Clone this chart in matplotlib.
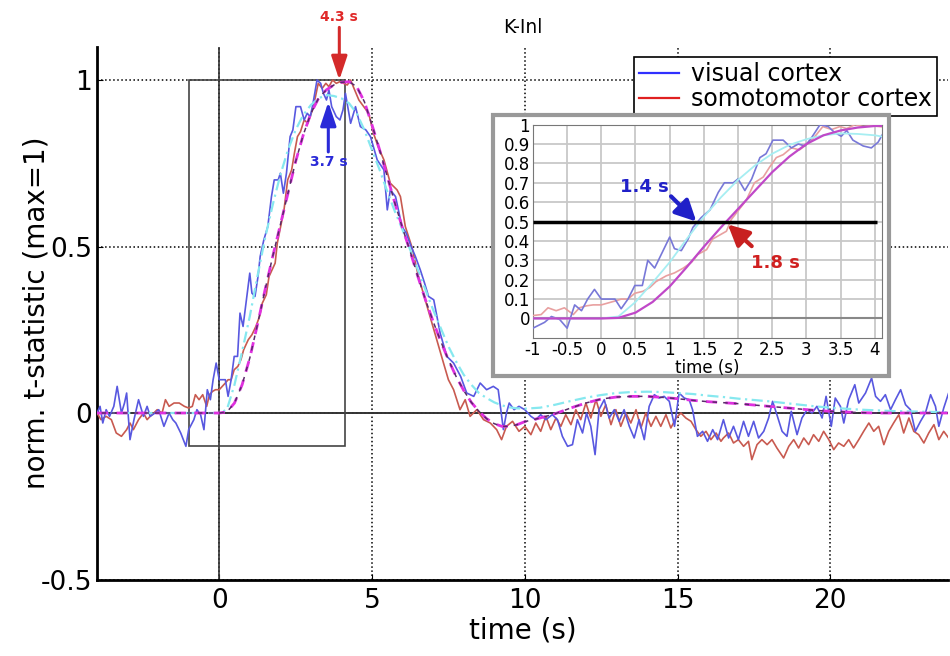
import numpy as np
import matplotlib.pyplot as plt
from matplotlib.lines import Line2D
from matplotlib.patches import Rectangle

plt.rcParams['font.family'] = ['DejaVu Sans']
plt.rcParams['axes.unicode_minus'] = False

# visual cortex, raw (time s, norm. t)
visual = [(-4.0, 0.0), (-3.9, 0.02), (-3.81, -0.03), (-3.7, 0.01), (-3.59, -0.01), (-3.45, 0.02),
          (-3.34, 0.08), (-3.2, 0.0), (-3.1, 0.03), (-3.03, 0.06), (-2.92, -0.08), (-2.79, -0.02),
          (-2.64, 0.04), (-2.48, -0.01), (-2.36, 0.02), (-2.26, -0.01), (-2.1, 0.0), (-1.98, 0.01),
          (-1.81, -0.04), (-1.64, 0.0), (-1.52, -0.02), (-1.42, -0.03), (-1.26, -0.06), (-1.09, -0.1),
          (-1.0, -0.05), (-0.83, -0.02), (-0.73, 0.01), (-0.61, -0.005), (-0.5, -0.05), (-0.39, 0.07),
          (-0.29, 0.04), (-0.2, 0.1), (-0.1, 0.15), (0.0, 0.1), (0.1, 0.1), (0.2, 0.1), (0.29, 0.05),
          (0.39, 0.1), (0.49, 0.17), (0.6, 0.17), (0.68, 0.3), (0.78, 0.26), (0.89, 0.34), (1.0, 0.42),
          (1.07, 0.36), (1.17, 0.35), (1.27, 0.41), (1.34, 0.47), (1.46, 0.52), (1.59, 0.56),
          (1.71, 0.65), (1.8, 0.7), (1.93, 0.7), (2.0, 0.72), (2.1, 0.66), (2.2, 0.72), (2.32, 0.83),
          (2.41, 0.85), (2.51, 0.92), (2.66, 0.92), (2.78, 0.88), (2.88, 0.9), (2.98, 0.89),
          (3.07, 0.93), (3.2, 1.0), (3.32, 0.99), (3.41, 0.96), (3.51, 0.94), (3.59, 0.97),
          (3.68, 0.92), (3.83, 0.89), (3.95, 0.88), (4.05, 0.91), (4.13, 0.96), (4.3, 0.87),
          (4.46, 0.92), (4.62, 0.86), (4.8, 0.85), (4.95, 0.83), (5.17, 0.76), (5.39, 0.73),
          (5.5, 0.61), (5.6, 0.67), (5.77, 0.65), (5.98, 0.56), (6.12, 0.54), (6.26, 0.505),
          (6.42, 0.47), (6.58, 0.43), (6.72, 0.39), (6.85, 0.35), (7.02, 0.34), (7.23, 0.24),
          (7.45, 0.17), (7.67, 0.15), (7.9, 0.11), (8.1, 0.06), (8.33, 0.05), (8.54, 0.09),
          (8.75, 0.07), (8.97, 0.08), (9.13, 0.07), (9.3, -0.05), (9.4, 0.0), (9.49, 0.03),
          (9.65, 0.01), (9.81, 0.02), (10.0, 0.01), (10.2, -0.01), (10.36, -0.02), (10.52, -0.005),
          (10.69, -0.02), (10.9, -0.005), (11.07, -0.02), (11.23, -0.07), (11.4, -0.1),
          (11.56, -0.095), (11.72, -0.02), (11.89, -0.06), (12.02, 0.0), (12.16, -0.04),
          (12.3, -0.125), (12.43, 0.01), (12.6, 0.04), (12.76, -0.015), (12.93, 0.01),
          (13.09, -0.025), (13.25, 0.01), (13.42, -0.04), (13.58, -0.075), (13.74, -0.02),
          (13.91, -0.08), (14.07, 0.02), (14.24, 0.055), (14.4, 0.045), (14.56, 0.05),
          (14.73, 0.035), (14.9, -0.04), (15.05, 0.06), (15.22, 0.045), (15.38, 0.04),
          (15.49, 0.01), (15.65, -0.07), (15.82, -0.055), (15.98, -0.085), (16.15, -0.05),
          (16.31, -0.08), (16.5, -0.02), (16.67, -0.075), (16.83, -0.04), (16.99, -0.08),
          (17.16, -0.025), (17.32, -0.07), (17.49, -0.025), (17.65, -0.075), (17.82, -0.055),
          (17.98, -0.015), (18.11, 0.035), (18.25, -0.005), (18.42, -0.055), (18.58, -0.07),
          (18.72, 0.005), (18.91, -0.065), (19.07, -0.015), (19.24, 0.01), (19.4, 0.0),
          (19.56, 0.02), (19.73, -0.015), (19.86, 0.05), (20.03, -0.04), (20.16, 0.045),
          (20.33, 0.02), (20.44, -0.03), (20.6, 0.04), (20.8, 0.085), (20.93, 0.03), (21.15, 0.06),
          (21.35, 0.105), (21.48, 0.05), (21.64, 0.035), (21.8, 0.055), (21.97, 0.01), (22.13, 0.04),
          (22.3, 0.07), (22.46, 0.025), (22.62, 0.01), (22.78, -0.055), (22.95, -0.025),
          (23.11, 0.0), (23.28, 0.055), (23.44, 0.02), (23.55, -0.04), (23.71, 0.015),
          (23.87, 0.06), (24.0, 0.03)]

# somatomotor cortex, raw
somato = [(-4.0, 0.0), (-3.87, -0.02), (-3.7, -0.01), (-3.53, -0.02), (-3.37, -0.06), (-3.2, -0.07),
          (-3.03, -0.05), (-2.92, -0.03), (-2.81, -0.05), (-2.64, -0.02), (-2.48, 0.0), (-2.36, -0.02),
          (-2.26, -0.01), (-2.14, 0.0), (-2.03, 0.01), (-1.87, 0.0), (-1.76, 0.04), (-1.64, 0.02),
          (-1.48, 0.03), (-1.31, 0.03), (-1.14, 0.02), (-1.0, 0.015), (-0.88, 0.02), (-0.78, 0.055),
          (-0.66, 0.04), (-0.54, 0.055), (-0.41, 0.02), (-0.32, 0.055), (-0.22, 0.065), (-0.12, 0.07),
          (0.0, 0.07), (0.1, 0.08), (0.2, 0.09), (0.29, 0.1), (0.39, 0.1), (0.49, 0.13), (0.61, 0.14),
          (0.71, 0.16), (0.8, 0.19), (0.95, 0.22), (1.07, 0.235), (1.2, 0.26), (1.32, 0.29),
          (1.41, 0.33), (1.54, 0.355), (1.63, 0.41), (1.73, 0.43), (1.83, 0.45), (1.9, 0.51),
          (2.0, 0.555), (2.12, 0.61), (2.24, 0.7), (2.37, 0.73), (2.46, 0.78), (2.56, 0.83),
          (2.66, 0.845), (2.78, 0.88), (2.9, 0.87), (3.05, 0.91), (3.15, 0.95), (3.24, 0.99),
          (3.37, 0.975), (3.49, 0.99), (3.59, 0.98), (3.71, 1.0), (3.83, 0.99), (3.95, 0.995),
          (4.07, 0.99), (4.19, 0.985), (4.3, 1.0), (4.41, 0.975), (4.57, 0.94), (4.73, 0.92),
          (4.89, 0.9), (5.05, 0.84), (5.2, 0.8), (5.39, 0.76), (5.6, 0.69), (5.82, 0.67),
          (5.93, 0.65), (6.09, 0.56), (6.3, 0.5), (6.52, 0.41), (6.74, 0.34), (6.96, 0.27),
          (7.12, 0.22), (7.34, 0.15), (7.5, 0.1), (7.67, 0.07), (7.88, 0.01), (8.05, 0.04),
          (8.21, -0.01), (8.43, 0.01), (8.65, -0.02), (8.87, -0.03), (9.08, -0.05), (9.24, -0.08),
          (9.4, -0.04), (9.6, -0.025), (9.81, -0.055), (10.0, -0.04), (10.2, -0.065), (10.36, -0.03),
          (10.52, -0.055), (10.69, -0.01), (10.85, -0.05), (11.02, -0.015), (11.18, -0.04),
          (11.34, -0.005), (11.51, -0.035), (11.67, 0.01), (11.83, -0.02), (12.0, 0.03),
          (12.16, -0.015), (12.33, 0.04), (12.49, -0.01), (12.65, 0.025), (12.82, -0.035),
          (12.98, 0.01), (13.14, -0.04), (13.31, 0.0), (13.47, -0.03), (13.64, 0.01),
          (13.8, -0.045), (13.96, 0.0), (14.13, -0.04), (14.29, -0.01), (14.45, -0.04),
          (14.62, -0.005), (14.78, -0.045), (14.95, -0.015), (15.11, 0.0), (15.27, -0.015),
          (15.44, -0.025), (15.6, -0.05), (15.76, -0.07), (15.93, -0.055), (16.09, -0.08),
          (16.26, -0.06), (16.42, -0.085), (16.5, -0.075), (16.67, -0.06), (16.83, -0.09),
          (16.99, -0.08), (17.16, -0.1), (17.32, -0.085), (17.43, -0.14), (17.6, -0.095),
          (17.76, -0.08), (17.93, -0.095), (18.09, -0.08), (18.25, -0.105), (18.47, -0.135),
          (18.64, -0.1), (18.8, -0.08), (18.96, -0.105), (19.13, -0.075), (19.29, -0.095),
          (19.45, -0.065), (19.62, -0.085), (19.78, -0.055), (19.95, -0.08), (20.11, -0.11),
          (20.27, -0.09), (20.44, -0.1), (20.6, -0.08), (20.76, -0.105), (20.93, -0.08),
          (21.09, -0.055), (21.26, -0.03), (21.42, -0.055), (21.58, -0.04), (21.75, -0.095),
          (21.91, -0.055), (22.07, -0.03), (22.24, -0.005), (22.4, -0.06), (22.57, -0.015),
          (22.73, -0.055), (22.89, -0.065), (23.06, -0.09), (23.22, -0.06), (23.39, -0.035),
          (23.55, -0.08), (23.71, -0.055), (23.87, -0.075), (24.0, -0.06)]

# fitted responses
fit_t = np.concatenate([[-4.0], np.arange(0, 10.01, 0.25), np.arange(10.5, 24.51, 0.5)])
fit_visual = [0.0,
              0.0, 0.01, 0.085, 0.185, 0.29, 0.41, 0.525, 0.625, 0.715, 0.79, 0.85, 0.895, 0.925,
              0.945, 0.955, 0.952, 0.945, 0.93, 0.9, 0.85, 0.79, 0.73, 0.665, 0.605, 0.55, 0.49,
              0.43, 0.37, 0.31, 0.255, 0.2, 0.155, 0.115, 0.085, 0.06, 0.045, 0.032, 0.023, 0.017,
              0.014, 0.013,
              0.016, 0.025, 0.036, 0.046, 0.054, 0.06, 0.063, 0.064, 0.063, 0.06, 0.057, 0.052,
              0.048, 0.043, 0.039, 0.035, 0.03, 0.025, 0.02, 0.016, 0.013, 0.01, 0.008, 0.006,
              0.005, 0.004, 0.003, 0.002, 0.002]
fit_somato = [0.0,
              0.0, 0.003, 0.03, 0.085, 0.165, 0.265, 0.37, 0.47, 0.565, 0.66, 0.755, 0.835, 0.9,
              0.945, 0.97, 0.985, 0.993, 0.995, 0.98, 0.935, 0.865, 0.79, 0.71, 0.63, 0.555, 0.485,
              0.41, 0.34, 0.275, 0.215, 0.16, 0.11, 0.068, 0.032, 0.005, -0.017, -0.032, -0.04,
              -0.04, -0.035, -0.026,
              -0.015, -0.002, 0.015, 0.03, 0.042, 0.048, 0.05, 0.05, 0.047, 0.043, 0.038, 0.034,
              0.031, 0.028, 0.024, 0.02, 0.016, 0.012, 0.008, 0.005, 0.003, 0.001, 0.0, 0.0, 0.0,
              0.0, 0.0, 0.0, 0.0]

vt, vy = zip(*visual)
st, sy = zip(*somato)

fig = plt.figure(figsize=(9.5, 6.56), dpi=100)
ax = fig.add_axes([0.1021, 0.1166, 0.8958, 0.8122])

ax.plot(st, sy, color='#c85a50', lw=1.2, zorder=3)
ax.plot(vt, vy, color='#5858e0', lw=1.2, zorder=3)
ax.plot(fit_t, fit_visual, color='#86e8ef', lw=1.6, ls=(0, (5, 2, 1, 2)), zorder=4)
ax.plot(fit_t, fit_somato, color='#e030e0', lw=2.0, ls=(0, (4, 3)), zorder=5)
ax.plot(fit_t, fit_somato, color='#5a2a6a', lw=1.1, ls=(4, (3, 4)), zorder=6)

ax.axhline(0, color='#333333', lw=1.4, zorder=2)
ax.axvline(0, color='#333333', lw=1.2, zorder=2)
ax.add_patch(Rectangle((-1, -0.1), 5.1, 1.1, fill=False, ec='#444444', lw=1.2, zorder=2))

ax.set_xlim(-4, 23.85)
ax.set_ylim(-0.5, 1.1)
ax.set_xticks([0, 5, 10, 15, 20])
ax.set_yticks([-0.5, 0, 0.5, 1])
ax.set_yticklabels(['-0.5', '0', '0.5', '1'])
ax.grid(True, ls=':', color='black', lw=1.1)
ax.tick_params(labelsize=19, direction='in', length=4)
ax.tick_params(axis='x', pad=6)
for s in ['top', 'right']:
    ax.spines[s].set_visible(False)
for s in ['left', 'bottom']:
    ax.spines[s].set_linewidth(2)
ax.set_xlabel('time (s)', fontsize=20, labelpad=2)
ax.set_ylabel('norm. t-statistic (max=1)', fontsize=20)
ax.yaxis.set_label_coords(-0.055, 0.5)
ax.set_title('K-Inl', fontsize=13.5, pad=10)

# peak markers
ax.annotate('', xy=(3.93, 1.0), xytext=(3.93, 1.158), annotation_clip=False,
            arrowprops=dict(arrowstyle='-|>,head_width=0.3,head_length=0.9', color='#d42a2a',
                            lw=2.2, mutation_scale=16, shrinkA=0, shrinkB=0))
ax.text(3.93, 1.168, '4.3 s', color='#e02828', fontsize=10, fontweight='bold',
        ha='center', va='bottom', clip_on=False)
ax.annotate('', xy=(3.57, 0.934), xytext=(3.57, 0.784),
            arrowprops=dict(arrowstyle='-|>,head_width=0.3,head_length=0.9', color='#2a2ad8',
                            lw=2.2, mutation_scale=16, shrinkA=0, shrinkB=0), zorder=8)
ax.text(3.6, 0.754, '3.7 s', color='#2a2ad8', fontsize=10, fontweight='bold',
        ha='center', va='center', zorder=8)

handles = [Line2D([], [], color='#3030ff', lw=1.6), Line2D([], [], color='#e02020', lw=1.6)]
leg = ax.legend(handles, ['visual cortex', 'somotomotor cortex'], loc='upper right',
                bbox_to_anchor=(0.986, 0.913), bbox_transform=fig.transFigure, fontsize=17,
                frameon=True, fancybox=False, edgecolor='black', framealpha=1, borderpad=0.2,
                labelspacing=0.05, handlelength=1.7, handletextpad=0.5, borderaxespad=0)
leg.get_frame().set_linewidth(1.2)
leg.set_zorder(10)

# inset: zoom on onset
fig.add_artist(Rectangle((0.519, 0.427), 0.417, 0.398, transform=fig.transFigure,
                         facecolor='white', edgecolor='#999999', lw=3, zorder=2))
ins = fig.add_axes([0.561, 0.485, 0.367, 0.325])
ins.set_zorder(3)
ins.plot(st, sy, color='#e8a0a0', lw=1.2, zorder=3)
ins.plot(vt, vy, color='#7878d8', lw=1.2, zorder=3)
ins.plot(fit_t, fit_visual, color='#a6eef2', lw=1.3, zorder=4)
ins.plot(fit_t, fit_somato, color='#c048c8', lw=1.6, zorder=5)
ins.axhline(0, color='#888888', lw=1.5, zorder=2)
ins.hlines(0.5, -1, 4.03, color='black', lw=2.5, zorder=6)
ins.set_xlim(-1, 4.1)
ins.set_ylim(-0.1, 1.0)
xt = np.arange(-1, 4.01, 0.5)
ins.set_xticks(xt)
ins.set_xticklabels(['-1', '-0.5', '0', '0.5', '1', '1.5', '2', '2.5', '3', '3.5', '4'])
yt = np.arange(0, 1.01, 0.1)
ins.set_yticks(yt)
ins.set_yticklabels(['0', '0.1', '0.2', '0.3', '0.4', '0.5', '0.6', '0.7', '0.8', '0.9', '1'])
ins.grid(True, color='#c8c8c8', lw=1.3, ls='-')
ins.set_axisbelow(True)
ins.tick_params(labelsize=12, length=0, pad=2)
for s in ins.spines.values():
    s.set_color('#777777')
ins.set_xlabel('time (s)', fontsize=12, labelpad=0)

ins.annotate('', xy=(1.39, 0.5), xytext=(1.02, 0.63),
             arrowprops=dict(arrowstyle='-|>,head_width=0.35,head_length=0.7', color='#2020c8',
                             lw=3, mutation_scale=18, shrinkA=0, shrinkB=0), zorder=7)
ins.text(0.63, 0.68, '1.4 s', color='#2020c8', fontsize=13, fontweight='bold',
         ha='center', va='center', zorder=7)
ins.annotate('', xy=(1.85, 0.485), xytext=(2.2, 0.373),
             arrowprops=dict(arrowstyle='-|>,head_width=0.35,head_length=0.7', color='#c82020',
                             lw=3, mutation_scale=18, shrinkA=0, shrinkB=0), zorder=7)
ins.text(2.54, 0.287, '1.8 s', color='#d02020', fontsize=13, fontweight='bold',
         ha='center', va='center', zorder=7)

fig.savefig('out.png', dpi=100)
